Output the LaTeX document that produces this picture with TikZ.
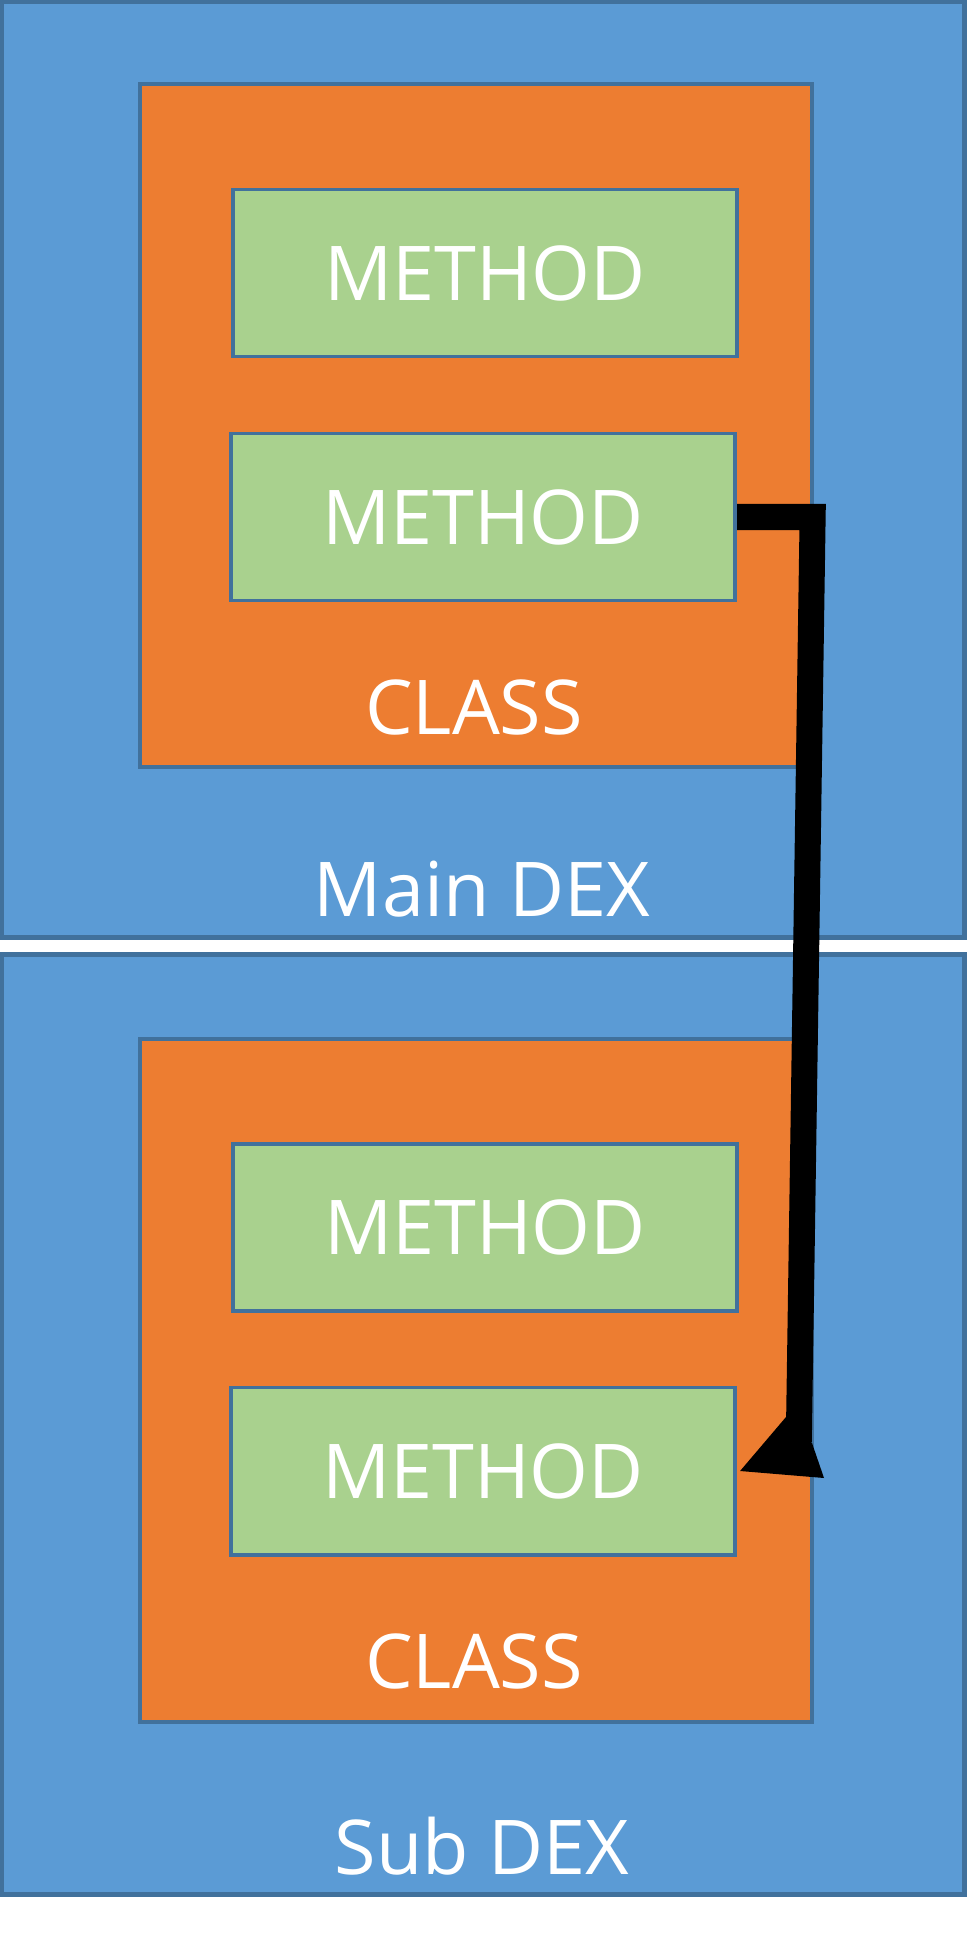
\documentclass[tikz,border=0pt]{standalone}
\usepackage{fontspec}
\setmainfont{Open Sans}
\usepackage{tikz}
\usetikzlibrary{shapes,arrows}
\usetikzlibrary{positioning,fit}
\definecolor{dexblue}{HTML}{5B9BD5}
\definecolor{dexline}{HTML}{41719C}
\definecolor{clsorange}{HTML}{ED7D31}
\definecolor{methgreen}{HTML}{A9D18E}
\tikzstyle{dexbox} = [rectangle, draw=dexline, fill=dexblue, line width=1.5pt,
    minimum width=9.62cm, inner sep=0pt]
\tikzstyle{classbox} = [rectangle, draw=dexline, fill=clsorange, line width=1.1pt,
    minimum width=6.72cm, minimum height=6.83cm, inner sep=0pt]
\tikzstyle{method} = [rectangle, draw=dexline, fill=methgreen, line width=1.1pt,
    minimum width=5.04cm, minimum height=1.67cm, inner sep=0pt,
    text=white, font=\fontsize{21.5}{26}\selectfont]
\tikzstyle{caption} = [text=white, font=\fontsize{21.5}{26}\selectfont]

\begin{document}
\begin{tikzpicture}[x=0.01cm, y=-0.01cm]
  \useasboundingbox [fill=white] (0,0) rectangle (966,1936);
  % Place nodes
  \node [dexbox, minimum height=9.35cm] (maindex) at (483,469.5) {};
  \node [dexbox, minimum height=9.39cm] (subdex) at (483,1424.5) {};
  \node [classbox] (class1) at (476,425.5) {};
  \node [classbox] (class2) at (476,1380.5) {};
  \node [method] (m1) at (485,273) {METHOD};
  \node [method] (m2) at (483,517) {METHOD};
  \node [method] (m3) at (485,1227.5) {METHOD};
  \node [method] (m4) at (483,1471) {METHOD};
  \node [caption] (cls1) at (474,707) {CLASS};
  \node [caption] (cls2) at (474,1661) {CLASS};
  \node [caption] (mainlbl) at (482,889) {Main DEX};
  \node [caption] (sublbl) at (482,1846) {Sub DEX};
  % Draw edges
  \coordinate (bend) at ([xshift=0.755cm]m2.east);
  \coordinate (shaftend) at (798.8,1442);
  \draw [black, line width=0.26cm, miter limit=10] (m2.east) -- (bend) -- (shaftend);
  \fill [black] (786,1417) -- ([xshift=0.03cm]m4.east) -- (824,1478) -- (812,1443) -- cycle;
\end{tikzpicture}
\end{document}
